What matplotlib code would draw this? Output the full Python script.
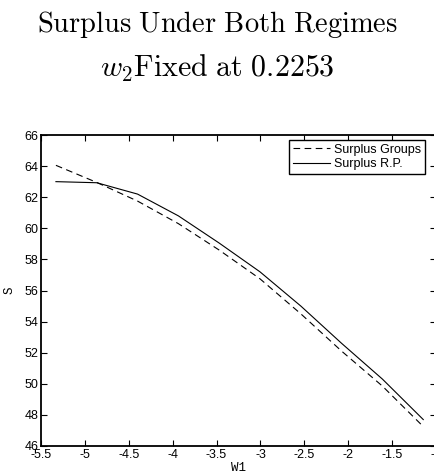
import matplotlib
matplotlib.use("Agg")
import matplotlib.pyplot as plt

# data
w1 = [-5.33, -4.865, -4.40, -3.935, -3.47, -3.005, -2.54, -2.075, -1.61, -1.145]
surplus_groups = [64.05, 62.95, 61.75, 60.3, 58.6, 56.75, 54.5, 52.1, 49.85, 47.25]
surplus_rp = [63.0, 62.93, 62.2, 60.8, 59.05, 57.2, 55.0, 52.6, 50.3, 47.7]
xticks = [-5.5, -5, -4.5, -4, -3.5, -3, -2.5, -2, -1.5, -1]
yticks = [46, 48, 50, 52, 54, 56, 58, 60, 62, 64, 66]

plt.rcParams['mathtext.fontset'] = 'cm'
plt.rcParams['font.family'] = 'Liberation Sans'

fig = plt.figure(figsize=(4.35, 4.74), dpi=100)
ax = fig.add_axes([41/435, 28/474, 395/435, 311/474])

ax.plot(w1, surplus_groups, color='black', lw=0.8, dashes=(6, 4), label='Surplus Groups')
ax.plot(w1, surplus_rp, color='black', lw=0.8, label='Surplus R.P.')

ax.set_xlim(-5.5, -1)
ax.set_ylim(46, 66)
ax.set_xticks(xticks)
ax.set_xticklabels(['%g' % t for t in xticks])
ax.set_yticks(yticks)
ax.tick_params(direction='in', top=True, right=True, labelsize=9, length=4, width=0.8, pad=2)
for s in ax.spines.values():
    s.set_linewidth(1.3)

ax.set_xlabel('W1', family='Liberation Mono', fontsize=9, labelpad=1)
ax.set_ylabel('S', family='Liberation Mono', fontsize=9, labelpad=6)

leg = ax.legend(loc='upper right', bbox_to_anchor=(425/435, 334/474),
                bbox_transform=fig.transFigure, fontsize=9, fancybox=False,
                framealpha=1, edgecolor='black', borderaxespad=0,
                handlelength=3.0, handletextpad=0.3, borderpad=0.3,
                labelspacing=0.2)
leg.get_frame().set_linewidth(1.0)

fig.text(0.5, 1 - 25/474, r'$\mathrm{Surplus\ Under\ Both\ Regimes}$',
         ha='center', va='center', fontsize=20.5)
fig.text(0.5, 1 - 68/474, r'$w_2\mathrm{Fixed\ at\ 0.2253}$',
         ha='center', va='center', fontsize=21.5)

fig.savefig('out.png', dpi=100)
